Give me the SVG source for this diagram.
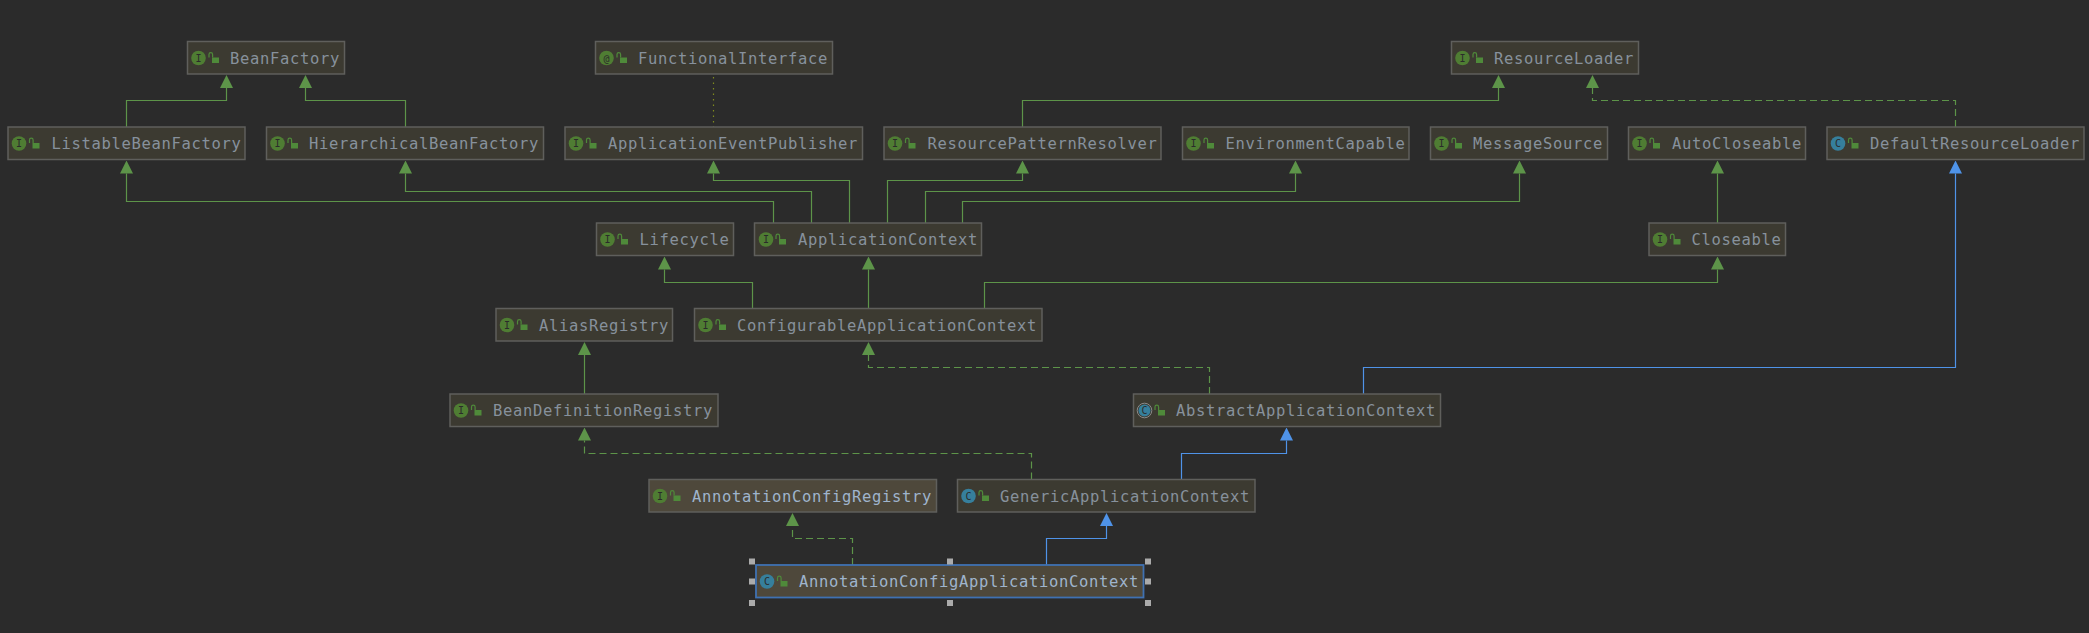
<svg xmlns="http://www.w3.org/2000/svg" width="2089" height="633" viewBox="0 0 2089 633">
<style>
.n{fill:#3c3a31;stroke:#5f5f5c;stroke-width:1.5}
.h{fill:#4e483b;stroke:#5f5f5c;stroke-width:1.5}
.s{fill:#4e483b;stroke:#3f71b2;stroke-width:1.8}
.t{font-family:"DejaVu Sans Mono",monospace;font-size:15.5px;letter-spacing:.67px;fill:#87919c}
.th{fill:#9fb4cc}
.ci{fill:#4f7d33}.cc{fill:#367f9c}
.l{font-family:"DejaVu Sans Mono",monospace;font-size:10px;fill:#2b2b2b;text-anchor:middle}
.g,.gd,.b,.d{fill:none;stroke-width:1.2}
.g,.gd{stroke:#5d9449}.gd{stroke-dasharray:7 4}.b{stroke:#4f93e8}
.d{stroke:#7f8a1f;stroke-dasharray:1.5 4}
.k{fill:#ababab}
</style>
<defs>
<marker id="ag" markerUnits="userSpaceOnUse" markerWidth="13" markerHeight="13" refX="0" refY="6.5" orient="auto"><path d="M0,0L13,6.5L0,13z" fill="#5d9449"/></marker>
<marker id="ab" markerUnits="userSpaceOnUse" markerWidth="13" markerHeight="13" refX="0" refY="6.5" orient="auto"><path d="M0,0L13,6.5L0,13z" fill="#4f93e8"/></marker>
<g id="lock"><rect x="2" y="2.5" width="7" height="5.5" fill="#4f8a3a"/><path d="M-1,2.5V-0.5a1.8,1.8 0 0 1 3.6,0V2.5" fill="none" stroke="#4f8a3a" stroke-width="1.2"/></g>
</defs>
<rect width="2089" height="633" fill="#2b2b2b"/>
<g id="connectors">
<path class="g" marker-end="url(#ag)" d="M126.500,127V100.500H226.500V88"/>
<path class="g" marker-end="url(#ag)" d="M405.500,127V100.500H305.500V88"/>
<path class="d" d="M713.500,77V127"/>
<path class="g" marker-end="url(#ag)" d="M773.500,223V201.500H126.500V173.500"/>
<path class="g" marker-end="url(#ag)" d="M811.500,223V191.500H405.500V173.500"/>
<path class="g" marker-end="url(#ag)" d="M849.500,223V180.500H713.500V173.500"/>
<path class="g" marker-end="url(#ag)" d="M887.500,223V180.500H1022.500V173.500"/>
<path class="g" marker-end="url(#ag)" d="M925.500,223V191.500H1295.500V173.500"/>
<path class="g" marker-end="url(#ag)" d="M962.500,223V201.500H1519.500V173.500"/>
<path class="g" marker-end="url(#ag)" d="M1022.500,127V100.500H1498.500V88"/>
<path class="gd" marker-end="url(#ag)" d="M1955.500,127V100.500H1592.500V88"/>
<path class="g" marker-end="url(#ag)" d="M1717.500,223V173.500"/>
<path class="b" marker-end="url(#ab)" d="M1363.500,394V367.500H1955.500V173.500"/>
<path class="g" marker-end="url(#ag)" d="M752.500,308.500V282.500H664.500V269.500"/>
<path class="g" marker-end="url(#ag)" d="M868.500,308.500V269.500"/>
<path class="g" marker-end="url(#ag)" d="M984.500,308.500V282.500H1717.500V269.500"/>
<path class="g" marker-end="url(#ag)" d="M584.500,394V355"/>
<path class="gd" marker-end="url(#ag)" d="M1209.500,394V367.500H868.500V355"/>
<path class="b" marker-end="url(#ab)" d="M1181.500,479.500V453.500H1286.500V440.500"/>
<path class="gd" marker-end="url(#ag)" d="M1031.500,479.500V453.500H584.500V440.500"/>
<path class="b" marker-end="url(#ab)" d="M1046.500,565V538.500H1106.500V526"/>
<path class="gd" marker-end="url(#ag)" d="M852.500,565V538.500H792.500V526"/>
</g>
<g id="BeanFactory"><rect class="n" x="187.500" y="41.500" width="157" height="32.500"/><circle class="ci" cx="198.500" cy="58" r="7.300"/><text class="l" x="198.500" y="61.500">I</text><use href="#lock" x="210" y="55"/><text class="t" x="230" y="63.500">BeanFactory</text></g>
<g id="FunctionalInterface"><rect class="n" x="595.500" y="41.500" width="237" height="32.500"/><circle class="ci" cx="606.500" cy="58" r="7.300"/><text class="l" x="606.500" y="61.500">@</text><use href="#lock" x="618" y="55"/><text class="t" x="638" y="63.500">FunctionalInterface</text></g>
<g id="ResourceLoader"><rect class="n" x="1451.500" y="41.500" width="187" height="32.500"/><circle class="ci" cx="1462.500" cy="58" r="7.300"/><text class="l" x="1462.500" y="61.500">I</text><use href="#lock" x="1474" y="55"/><text class="t" x="1494" y="63.500">ResourceLoader</text></g>
<g id="ListableBeanFactory"><rect class="n" x="8" y="127" width="237" height="32.500"/><circle class="ci" cx="19" cy="143.500" r="7.300"/><text class="l" x="19" y="147">I</text><use href="#lock" x="30.500" y="140.500"/><text class="t" x="51.500" y="149">ListableBeanFactory</text></g>
<g id="HierarchicalBeanFactory"><rect class="n" x="266.500" y="127" width="277" height="32.500"/><circle class="ci" cx="277.500" cy="143.500" r="7.300"/><text class="l" x="277.500" y="147">I</text><use href="#lock" x="289" y="140.500"/><text class="t" x="309" y="149">HierarchicalBeanFactory</text></g>
<g id="ApplicationEventPublisher"><rect class="n" x="565" y="127" width="297.500" height="32.500"/><circle class="ci" cx="576" cy="143.500" r="7.300"/><text class="l" x="576" y="147">I</text><use href="#lock" x="587.500" y="140.500"/><text class="t" x="608" y="149">ApplicationEventPublisher</text></g>
<g id="ResourcePatternResolver"><rect class="n" x="884" y="127" width="277" height="32.500"/><circle class="ci" cx="895" cy="143.500" r="7.300"/><text class="l" x="895" y="147">I</text><use href="#lock" x="906.500" y="140.500"/><text class="t" x="927.500" y="149">ResourcePatternResolver</text></g>
<g id="EnvironmentCapable"><rect class="n" x="1182.500" y="127" width="226.500" height="32.500"/><circle class="ci" cx="1193.500" cy="143.500" r="7.300"/><text class="l" x="1193.500" y="147">I</text><use href="#lock" x="1205" y="140.500"/><text class="t" x="1225.500" y="149">EnvironmentCapable</text></g>
<g id="MessageSource"><rect class="n" x="1430.500" y="127" width="177" height="32.500"/><circle class="ci" cx="1441.500" cy="143.500" r="7.300"/><text class="l" x="1441.500" y="147">I</text><use href="#lock" x="1453" y="140.500"/><text class="t" x="1473" y="149">MessageSource</text></g>
<g id="AutoCloseable"><rect class="n" x="1628.500" y="127" width="177" height="32.500"/><circle class="ci" cx="1639.500" cy="143.500" r="7.300"/><text class="l" x="1639.500" y="147">I</text><use href="#lock" x="1651" y="140.500"/><text class="t" x="1672" y="149">AutoCloseable</text></g>
<g id="DefaultResourceLoader"><rect class="n" x="1827" y="127" width="257" height="32.500"/><circle class="cc" cx="1838" cy="143.500" r="7.300"/><text class="l" x="1838" y="147">C</text><use href="#lock" x="1849.500" y="140.500"/><text class="t" x="1870" y="149">DefaultResourceLoader</text></g>
<g id="Lifecycle"><rect class="n" x="596.500" y="223" width="137" height="32.500"/><circle class="ci" cx="607.500" cy="239.500" r="7.300"/><text class="l" x="607.500" y="243">I</text><use href="#lock" x="619" y="236.500"/><text class="t" x="639.500" y="245">Lifecycle</text></g>
<g id="ApplicationContext"><rect class="n" x="754.500" y="223" width="227" height="32.500"/><circle class="ci" cx="766" cy="239.500" r="7.300"/><text class="l" x="766" y="243">I</text><use href="#lock" x="777" y="236.500"/><text class="t" x="798" y="245">ApplicationContext</text></g>
<g id="Closeable"><rect class="n" x="1649" y="223" width="136.500" height="32.500"/><circle class="ci" cx="1660" cy="239.500" r="7.300"/><text class="l" x="1660" y="243">I</text><use href="#lock" x="1671.500" y="236.500"/><text class="t" x="1691.500" y="245">Closeable</text></g>
<g id="AliasRegistry"><rect class="n" x="496" y="308.500" width="176.500" height="32.500"/><circle class="ci" cx="507" cy="325" r="7.300"/><text class="l" x="507" y="328.500">I</text><use href="#lock" x="518.500" y="322"/><text class="t" x="539" y="330.500">AliasRegistry</text></g>
<g id="ConfigurableApplicationContext"><rect class="n" x="694.500" y="308.500" width="347.500" height="32.500"/><circle class="ci" cx="705.500" cy="325" r="7.300"/><text class="l" x="705.500" y="328.500">I</text><use href="#lock" x="717" y="322"/><text class="t" x="737" y="330.500">ConfigurableApplicationContext</text></g>
<g id="BeanDefinitionRegistry"><rect class="n" x="450" y="394" width="268" height="32.500"/><circle class="ci" cx="461" cy="410.500" r="7.300"/><text class="l" x="461" y="414">I</text><use href="#lock" x="472.500" y="407.500"/><text class="t" x="493" y="416">BeanDefinitionRegistry</text></g>
<g id="AbstractApplicationContext"><rect class="n" x="1133.500" y="394" width="307" height="32.500"/><circle cx="1144.500" cy="410.500" r="7.300" fill="none" stroke="#8a8a8a" stroke-width="1"/><circle class="cc" cx="1144.500" cy="410.500" r="6"/><text class="l" x="1144.500" y="414">C</text><use href="#lock" x="1156" y="407.500"/><text class="t" x="1176" y="416">AbstractApplicationContext</text></g>
<g id="AnnotationConfigRegistry"><rect class="h" x="649" y="479.500" width="287.500" height="32.500"/><circle class="ci" cx="660" cy="496" r="7.300"/><text class="l" x="660" y="499.500">I</text><use href="#lock" x="671.500" y="493"/><text class="t th" x="692" y="501.500">AnnotationConfigRegistry</text></g>
<g id="GenericApplicationContext"><rect class="n" x="957.500" y="479.500" width="297.500" height="32.500"/><circle class="cc" cx="968.500" cy="496" r="7.300"/><text class="l" x="968.500" y="499.500">C</text><use href="#lock" x="980" y="493"/><text class="t" x="1000" y="501.500">GenericApplicationContext</text></g>
<g id="AnnotationConfigApplicationContext"><rect class="s" x="756" y="565" width="387.500" height="32.500"/><circle class="cc" cx="767" cy="581.500" r="7.300"/><text class="l" x="767" y="585">C</text><use href="#lock" x="778.500" y="578.500"/><text class="t th" x="799" y="587">AnnotationConfigApplicationContext</text>
<rect class="k" x="749" y="558.500" width="6" height="6"/><rect class="k" x="947" y="558.500" width="6" height="6"/><rect class="k" x="1145" y="558.500" width="6" height="6"/><rect class="k" x="749" y="578.500" width="6" height="6"/><rect class="k" x="1145" y="578.500" width="6" height="6"/><rect class="k" x="749" y="600" width="6" height="6"/><rect class="k" x="947" y="600" width="6" height="6"/><rect class="k" x="1145" y="600" width="6" height="6"/></g>
</svg>
